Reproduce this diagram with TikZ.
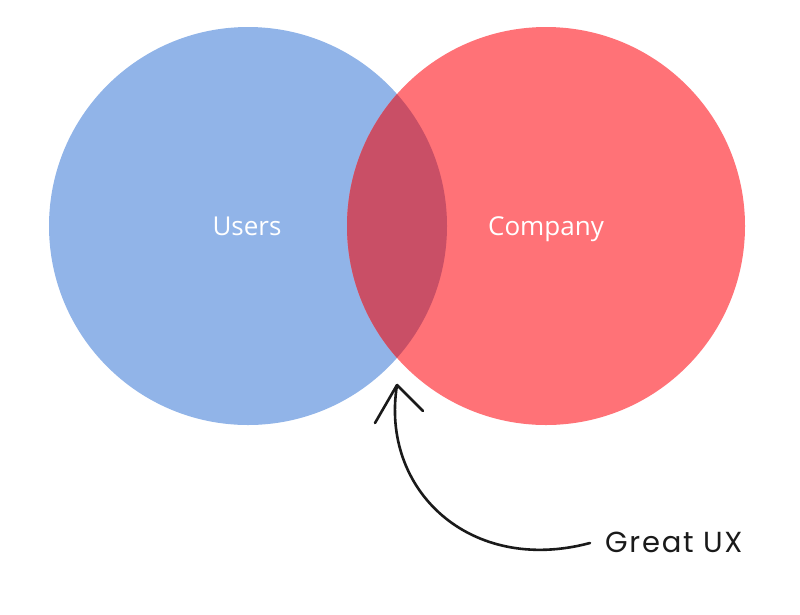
\documentclass[tikz,border=0pt]{standalone}
\usepackage{fontspec}
\setmainfont{Open Sans}
\newfontfamily\handfont[LetterSpace=6]{Poppins}
\definecolor{userblue}{HTML}{91B4E8}
\definecolor{compred}{HTML}{FF7277}
\definecolor{overlap}{HTML}{C94F66}
\definecolor{ink}{HTML}{1A1A1A}
\begin{document}
\begin{tikzpicture}[x=1pt,y=-1pt,
  setcircle/.style={circle,minimum size=398pt,inner sep=0pt},
  setlabel/.style={text=white,anchor=base,inner sep=0pt,font=\fontsize{26}{30}\selectfont},
  handlabel/.style={text=ink,anchor=base west,inner sep=0pt,font=\handfont\fontsize{29}{32}\selectfont},
  inkline/.style={draw=ink,line width=2.6pt,line cap=round,line join=round}]
\useasboundingbox (0,0) rectangle (800,614);
\node[setcircle,fill=userblue] (users) at (248,226) {};
\node[setcircle,fill=compred] (company) at (546,226) {};
\begin{scope}
  \clip (248,226) circle (199pt);
  \fill[overlap] (546,226) circle (199pt);
\end{scope}
\node[setlabel] (userslabel) at (247,235) {Users};
\node[setlabel] (companylabel) at (546,235) {Company};
\node[handlabel] (ux) at (605,552) {Great UX};
\coordinate (tail) at (590,543);
\coordinate (tip) at (397,385);
\draw[inkline] (tail) .. controls (470,575) and (380,490) .. (tip);
\draw[inkline] (tip) -- ++(-22,38);
\draw[inkline] (tip) -- ++(26,26);
\end{tikzpicture}
\end{document}
